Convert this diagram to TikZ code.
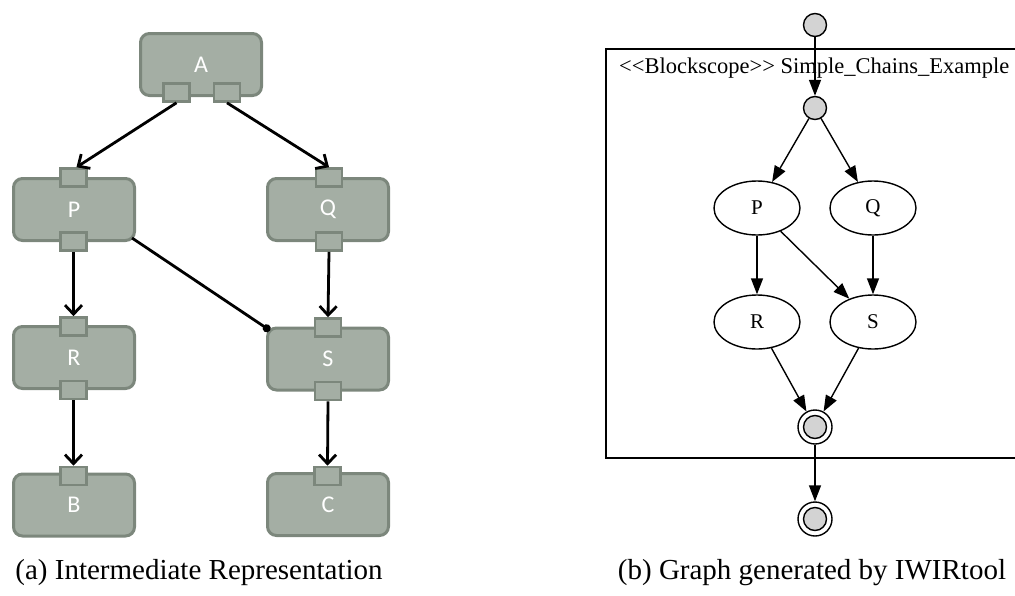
\documentclass[tikz,border=0pt]{standalone}
\usepackage{fontspec}
\setmainfont{Liberation Serif}
\newfontfamily\tms{Liberation Serif}
\newfontfamily\carl{Carlito}
\usetikzlibrary{arrows.meta,shapes.geometric}
\definecolor{boxfill}{RGB}{164,174,164}
\definecolor{boxdraw}{RGB}{124,135,124}
\definecolor{dotgray}{RGB}{211,211,211}
\begin{document}
\begin{tikzpicture}[x=1pt,y=-1pt,
 irbox/.style={draw=boxdraw,fill=boxfill,line width=3pt,rounded corners=9pt,minimum width=121pt,minimum height=62pt,font=\carl\fontsize{24}{28}\selectfont,text=white,inner sep=0pt},
 port/.style={draw=boxdraw,fill=boxfill,line width=2.6pt,minimum width=26pt,minimum height=18pt,inner sep=0pt},
 irarrow/.style={line width=2.8pt,-{Straight Barb[length=9pt,width=17pt,line width=2.8pt]}},
 gvnode/.style={draw,ellipse,line width=1.4pt,minimum width=86pt,minimum height=54pt,inner sep=0pt,font=\tms\fontsize{21}{24}\selectfont},
 gvdot/.style={draw,circle,fill=dotgray,line width=1.4pt,minimum size=23pt,inner sep=0pt},
 gvouter/.style={draw,circle,fill=white,line width=1.4pt,minimum size=34pt,inner sep=0pt},
 gvinner/.style={draw,circle,fill=dotgray,line width=1.4pt,minimum size=23pt,inner sep=0pt},
 gvarrow/.style={line width=1.4pt,-{Triangle[length=16pt,width=12pt]}},
 caption/.style={font=\tms\fontsize{29}{33}\selectfont,inner sep=0pt}
]
\useasboundingbox (0,0) rectangle (1015,595);

% ---------- left panel ----------
\node[irbox] (A) at (201,64.5) {A};
\node[irbox] (P) at (74,209.5) {P};
\node[irbox] (Q) at (328,209.5) {Q};
\node[irbox] (R) at (74,357.5) {R};
\node[irbox] (S) at (328,359) {S};
\node[irbox] (B) at (74,505) {B};
\node[irbox] (C) at (328,504.5) {C};

\node[port] (Aout1) at (176.5,92.5) {};
\node[port] (Aout2) at (227,92.5) {};
\node[port] (Pin) at (73.5,177.5) {};
\node[port] (Pout) at (73.5,241.5) {};
\node[port] (Qin) at (329,177.5) {};
\node[port] (Qout) at (329,241.5) {};
\node[port] (Rin) at (73.5,326.5) {};
\node[port] (Rout) at (73.5,390) {};
\node[port] (Sin) at (328,327.5) {};
\node[port] (Sout) at (328,391) {};
\node[port] (Bin) at (73.5,476) {};
\node[port] (Cin) at (327.5,476) {};

\draw[irarrow] (Aout1.south) -- ([xshift=3pt]Pin.north);
\draw[irarrow] (Aout2.south) -- (Qin.north);
\draw[irarrow] (Pout.south) -- (Rin.north);
\draw[irarrow] (Qout.south) -- (Sin.north);
\draw[irarrow] (Rout.south) -- (Bin.north);
\draw[irarrow] (Sout.south) -- (Cin.north);
\draw[line width=2.8pt,-{Circle[length=8pt]}] ([shift={(-4,-4)}]P.south east) -- ([shift={(4,4)}]S.north west);

\node[caption] (capa) at (199,573) {(a) Intermediate Representation};

% ---------- right panel ----------
\draw[line width=1.4pt] (1015,49) -- (606,49) -- (606,458) -- (1015,458);
\node[font=\tms\fontsize{22.5}{26}\selectfont,anchor=west,inner sep=0pt] (lbl) at (619,68) {<{}<Blockscope>{}> Simple\_Chains\_Example};

\node[gvdot] (start) at (815,25) {};
\node[gvdot] (fork) at (815,108) {};
\node[gvnode] (gP) at (757,208) {P};
\node[gvnode] (gQ) at (873,208) {Q};
\node[gvnode] (gR) at (757,322) {R};
\node[gvnode] (gS) at (873,322) {S};
\node[gvouter] (join) at (815,427) {};
\node[gvinner] (joinin) at (815,427) {};
\node[gvouter] (fin) at (815,519) {};
\node[gvinner] (finin) at (815,519) {};

\draw[gvarrow] (start) -- (fork);
\draw[gvarrow] (fork) -- (gP);
\draw[gvarrow] (fork) -- (gQ);
\draw[gvarrow] (gP) -- (gR);
\draw[gvarrow] (gP) -- (gS);
\draw[gvarrow] (gQ) -- (gS);
\draw[gvarrow] (gR) -- (join);
\draw[gvarrow] (gS) -- (join);
\draw[gvarrow] (join) -- (fin);

\node[caption] (capb) at (812,573) {(b) Graph generated by IWIRtool};
\end{tikzpicture}
\end{document}
